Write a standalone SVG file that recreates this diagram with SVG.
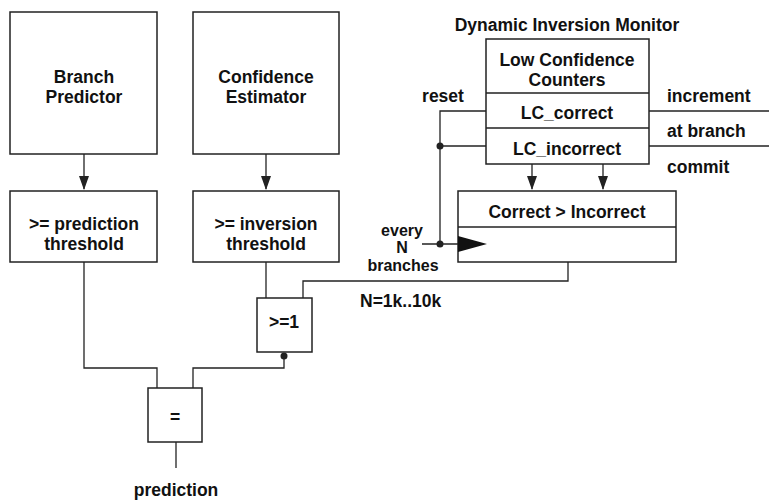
<svg xmlns="http://www.w3.org/2000/svg" width="769" height="500" viewBox="0 0 769 500">
<style>
rect.b{fill:#fff;stroke:#222;stroke-width:1.5}
.w{stroke:#222;stroke-width:1.3;fill:none}
text{font-family:"Liberation Sans",Arial,sans-serif;font-size:17.5px;font-weight:bold;fill:#111;text-anchor:middle}
text.l{text-anchor:start}
text.s{font-size:16px}
</style>
<defs>
<marker id="ad" markerWidth="10" markerHeight="14" refX="5" refY="13" orient="0" markerUnits="userSpaceOnUse" viewBox="0 0 10 14"><path d="M0,0 L10,0 L5,14 Z" fill="#222"/></marker>
</defs>
<rect width="769" height="500" fill="#fff"/>
<g id="connectors">
<path class="w" d="M84,154 V189" marker-end="url(#ad)"/>
<path class="w" d="M266,154 V189" marker-end="url(#ad)"/>
<path class="w" d="M532,164 V189" marker-end="url(#ad)"/>
<path class="w" d="M603,164 V189" marker-end="url(#ad)"/>
<path class="w" d="M84,262 V368 H157 V388"/>
<path class="w" d="M193,388 V368 H284 V357"/>
<circle cx="284" cy="356" r="3.5" fill="#222"/>
<path class="w" d="M266,262 V298"/>
<path class="w" d="M303,298 V281 H568 V262"/>
<path class="w" d="M176,442 V468"/>
<path class="w" d="M486,111 H440 V244"/>
<path class="w" d="M486,146 H440"/>
<circle cx="440" cy="146" r="3.5" fill="#222"/>
<path class="w" d="M422,244 H458"/>
<circle cx="440" cy="244" r="3.5" fill="#222"/>
<path class="w" d="M649,111 H769"/>
<path class="w" d="M649,146 H769"/>
</g>
<g id="branch-predictor">
<rect class="b" x="10" y="12" width="147" height="142"/>
<text x="84" y="83">Branch</text>
<text x="84" y="103">Predictor</text>
</g>
<g id="confidence-estimator">
<rect class="b" x="193" y="12" width="146" height="142"/>
<text x="266" y="83">Confidence</text>
<text x="266" y="103">Estimator</text>
</g>
<g id="prediction-threshold">
<rect class="b" x="10" y="191" width="147" height="71"/>
<text x="84" y="230">&gt;= prediction</text>
<text x="84" y="250">threshold</text>
</g>
<g id="inversion-threshold">
<rect class="b" x="193" y="191" width="146" height="71"/>
<text x="266" y="230">&gt;= inversion</text>
<text x="266" y="250">threshold</text>
</g>
<g id="ge1">
<rect class="b" x="257" y="298" width="55" height="54"/>
<text x="284" y="328">&gt;=1</text>
</g>
<g id="eq">
<rect class="b" x="148" y="388" width="54" height="54"/>
<text x="175" y="423">=</text>
</g>
<g id="prediction-label">
<text x="176" y="496">prediction</text>
</g>
<g id="dim-title">
<text x="567" y="31">Dynamic Inversion Monitor</text>
</g>
<g id="lc-counters">
<rect class="b" x="486" y="39" width="163" height="125"/>
<path class="w" d="M486,93 H649 M486,128 H649"/>
<text x="567" y="66">Low Confidence</text>
<text x="567" y="86">Counters</text>
<text x="567" y="119">LC_correct</text>
<text x="567" y="155">LC_incorrect</text>
</g>
<g id="comparator">
<rect class="b" x="458" y="191" width="218" height="71"/>
<path class="w" d="M458,227 H676"/>
<text x="567" y="218">Correct &gt; Incorrect</text>
<path d="M458,236 L487,244 L458,252 Z" fill="#111"/>
</g>
<g id="labels">
<text x="443" y="102">reset</text>
<text class="l" x="667" y="102">increment</text>
<text class="l" x="667" y="137">at branch</text>
<text class="l" x="667" y="173">commit</text>
<text class="s" x="402" y="236">every</text>
<text class="s" x="402" y="253">N</text>
<text class="s" x="403" y="271">branches</text>
<text class="l" x="360" y="307">N=1k..10k</text>
</g>
</svg>
